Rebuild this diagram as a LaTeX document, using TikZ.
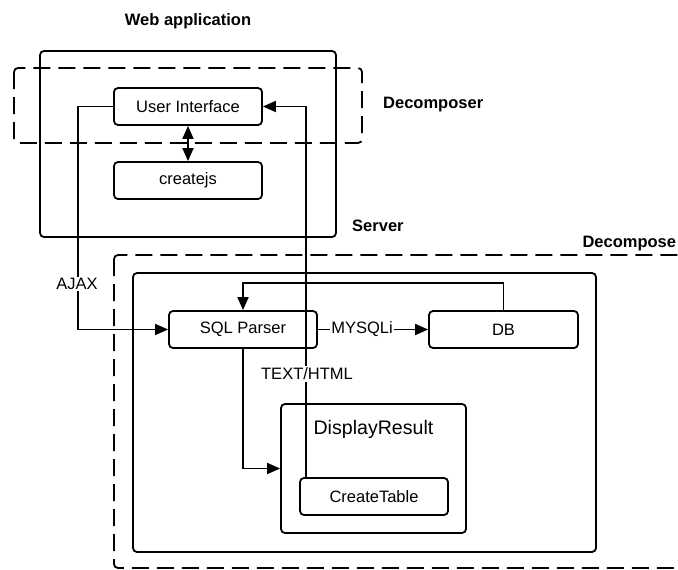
\documentclass[tikz,border=0pt]{standalone}
\usepackage{fontspec}
\setmainfont{Liberation Sans}
\usetikzlibrary{arrows.meta}
\begin{document}
\begin{tikzpicture}[x=1pt, y=-1pt, line width=1.8pt, font=\fontsize{16.5}{20}\selectfont,
  box/.style={draw, rounded corners=4pt, minimum width=148pt, minimum height=37pt, inner sep=0pt},
  frame/.style={rounded corners=4pt},
  dashframe/.style={rounded corners=4pt, dash pattern=on 17pt off 8pt},
  flow/.style={-{Triangle[length=13pt, width=11pt]}},
  tag/.style={fill=white, inner sep=1.5pt},
  title/.style={font=\fontsize{16.5}{20}\selectfont\bfseries}]
\clip (0,0) rectangle (678,570);
% containers
\draw [frame] (40,51) rectangle (336,237);
\draw [dashframe] (14,68) rectangle (362,143);
\draw [dashframe] (114,255) rectangle (700,568);
\draw [frame] (133,273) rectangle (596,552);
\node [box, minimum width=185pt, minimum height=129pt] (disp) at (373.5,468.5) {};
% boxes
\node [box] (ui) at (188,106.5) {User Interface};
\node [box] (cjs) at (188,180.5) {createjs};
\node [box] (sql) at (243,329.5) {SQL Parser};
\node [box, minimum width=149pt] (db) at (503.5,329.5) {DB};
\node [box] (ctab) at (374,496.5) {CreateTable};
\node (disptext) at (373.5,429) {\fontsize{19.6}{23}\selectfont DisplayResult};
% labels
\node [title] (webapp) at (188,21) {Web application};
\node [title, anchor=west] (decomposer) at (379,105) {Decomposer};
\node [title, anchor=west] (server) at (348,226) {Server};
\node [title, anchor=east, inner sep=1pt] (decompose) at (678,244) {Decompose};
% connectors
\coordinate (ajaxbend) at (78,329.5);
\coordinate (fb) at (243,283);
\draw [{Triangle[length=13pt, width=11pt]}-{Triangle[length=13pt, width=11pt]}] (ui.south) -- (cjs.north);
\draw [flow] (ui.west) -| (ajaxbend) -- (sql.west);
\draw [flow] ([xshift=7pt]ctab.north west) |- (ui.east);
\draw [flow] (sql.east) -- (db.west) node [tag, pos=0.4] (mysqli) {MYSQLi};
\draw [flow] (db.north) |- (fb) -- (sql.north);
\draw [flow] (sql.south) |- (disp.west);
\node [tag] (ajax) at (77,284) {AJAX};
\node [tag] (texthtml) at (307,374) {TEXT/HTML};
\end{tikzpicture}
\end{document}
